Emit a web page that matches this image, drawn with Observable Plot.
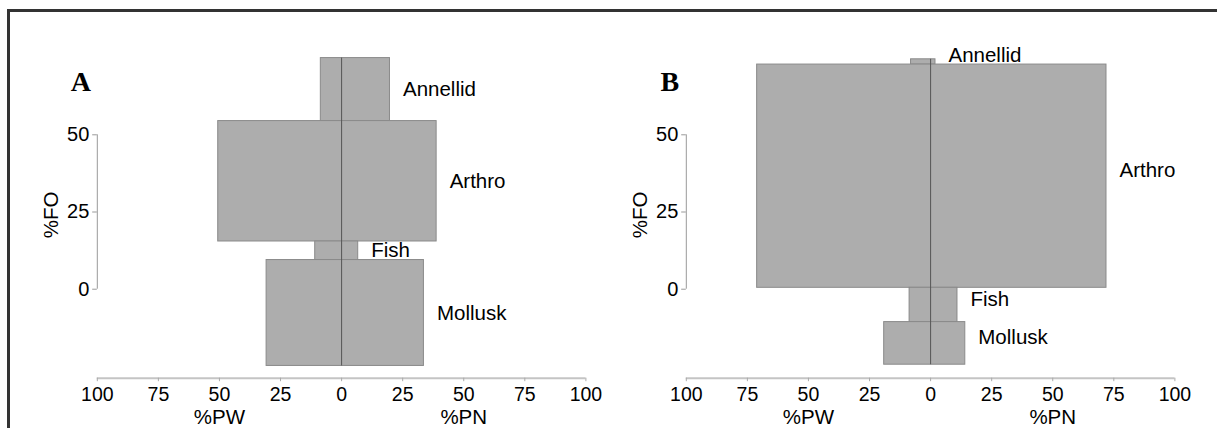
<!DOCTYPE html>
<html>
<head>
<meta charset="utf-8">
<script src="https://cdn.jsdelivr.net/npm/d3@7"></script>
<script src="https://cdn.jsdelivr.net/npm/@observablehq/plot@0.6"></script>
<style>
  html, body { margin: 0; padding: 0; background: #fff; }
  #wrap { position: relative; width: 1217px; height: 428px; overflow: hidden; font-family: "Liberation Sans", Arial, sans-serif; }
  .panel { position: absolute; top: 0; }
  .panel svg { overflow: visible; }
  #bTop { position: absolute; left: 7px; top: 9px; width: 1210px; height: 2.5px; background: #333; }
  #bLeft { position: absolute; left: 7px; top: 9px; width: 2.5px; height: 419px; background: #333; }
</style>
</head>
<body>
<div id="wrap">
  <div id="bTop"></div>
  <div id="bLeft"></div>
  <div class="panel" id="pA" style="left:0px"></div>
  <div class="panel" id="pB" style="left:589.3px"></div>
</div>
<script>
// ---- data ----
const prey = ["Annellid", "Arthro", "Fish", "Mollusk"];
// Panel A
const pwA = [8.5, 50.5, 10.8, 30.7];
const pnA = [19.8, 38.9, 6.8, 33.7];
const foA = [20.4, 39.0, 6.0, 34.3];
// Panel B
const pwB = [8.0, 71.0, 8.6, 19.0];
const pnB = [2.0, 72.0, 11.0, 14.2];
const foB = [1.7, 72.3, 11.1, 13.8];
// axes
const xTicks = [-100, -75, -50, -25, 0, 25, 50, 75, 100];
const yTicks = [0, 25, 50];
const panelLetters = ["A", "B"];
const xTitles = [{x: -50, t: "%PW"}, {x: 50, t: "%PN"}];

const yMin = -28.82, yMax = 83.78, center = 25;

function rowsFor(pw, pn, fo) {
  const total = d3.sum(fo);
  let top = center + total / 2;
  return prey.map((name, i) => {
    const r = {name, pw: pw[i], pn: pn[i], top, bottom: top - fo[i]};
    top -= fo[i];
    return r;
  });
}

function panel(pw, pn, fo, letter, labelDy) {
  const rows = rowsFor(pw, pn, fo);
  const stackSpan = [{top: rows[0].top, bottom: rows[rows.length - 1].bottom}];
  return Plot.plot({
    width: 608,
    height: 428,
    marginLeft: 96.8,
    marginRight: 22.6,
    marginTop: 30,
    marginBottom: 50.3,
    style: {fontFamily: "'Liberation Sans', Arial, sans-serif", background: "transparent", overflow: "visible"},
    x: {domain: [-100, 100]},
    y: {domain: [yMin, yMax]},
    marks: [
      Plot.rect(rows, {x1: d => -d.pw, x2: d => d.pn, y1: "bottom", y2: "top",
        fill: "#adadad", stroke: "#8a8a8a", strokeWidth: 1}),
      Plot.ruleX(stackSpan, {x: () => 0, y1: "bottom", y2: "top", stroke: "#555", strokeWidth: 1}),
      Plot.text(rows, {x: "pn", y: d => (d.top + d.bottom) / 2, text: "name", dx: 13, dy: labelDy,
        textAnchor: "start", fontSize: 20.5, fill: "#000"}),
      // y axis
      Plot.ruleX([-100], {y1: 0, y2: 50, stroke: "#999", strokeWidth: 1}),
      Plot.axisY(yTicks, {anchor: "left", tickSize: 4.6, tickPadding: 3.4, fontSize: 20, label: null,
        stroke: "#999", fill: "#000"}),
      Plot.text(["%FO"], {x: -100, y: 25, dx: -46, dy: 3, rotate: -90, fontSize: 20.5, fill: "#000"}),
      // x axis
      Plot.ruleY([yMin], {x1: -100, x2: 100, stroke: "#c4c4c4", strokeWidth: 2}),
      Plot.axisX(xTicks, {anchor: "bottom", tickSize: 3.5, tickPadding: 5.2, fontSize: 19.5, label: null,
        tickFormat: d => Math.abs(d), stroke: "#aaa", fill: "#000"}),
      Plot.text(xTitles, {x: "x", y: yMin, text: "t", dy: 39.5, fontSize: 20.5, fill: "#000"}),
      // panel letter
      Plot.text([letter], {x: -100, y: 67, dx: -16.5, fontSize: 28, fontWeight: "bold",
        fontFamily: "'Liberation Serif', 'Times New Roman', serif", fill: "#000"})
    ]
  });
}

document.getElementById("pA").appendChild(panel(pwA, pnA, foA, panelLetters[0], 0));
document.getElementById("pB").appendChild(panel(pwB, pnB, foB, panelLetters[1], -6));
</script>
</body>
</html>
